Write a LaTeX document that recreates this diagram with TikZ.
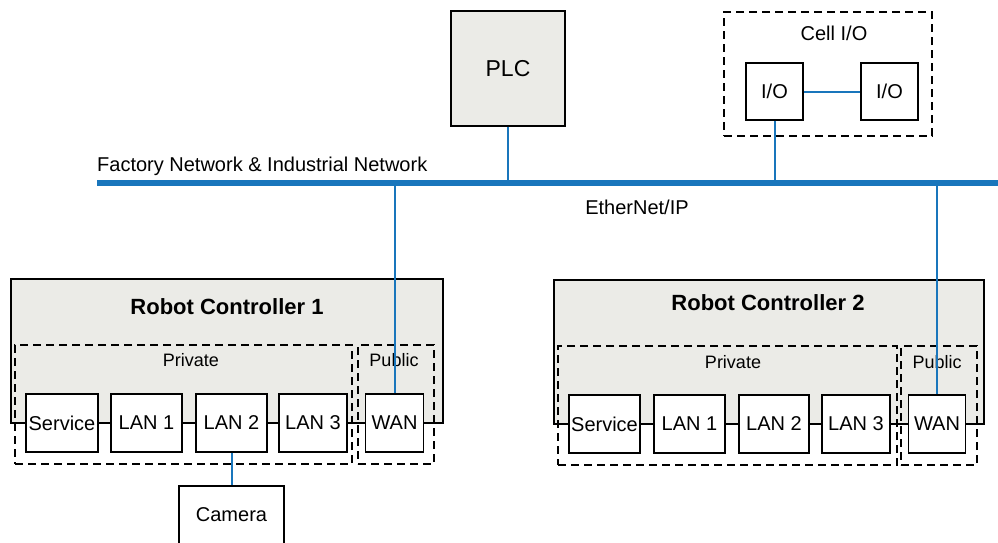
\documentclass[tikz,border=0pt]{standalone}
\usepackage{fontspec}
\setmainfont{Liberation Sans}
\usepackage{tikz}
\usetikzlibrary{positioning}
\definecolor{ctrlgrey}{RGB}{235,235,231}
\definecolor{netblue}{RGB}{25,118,188}

\begin{document}
\begin{tikzpicture}[x=1pt,y=-1pt,
   font=\fontsize{20}{24}\selectfont,
   port/.style={draw,line width=1.3pt,fill=white,inner sep=0pt,minimum height=58pt},
   ctrl/.style={draw,line width=1.3pt,fill=ctrlgrey,inner sep=0pt},
   zone/.style={draw,dash pattern=on 8pt off 5pt,line width=1.6pt,inner sep=0pt},
   txt/.style={inner sep=0pt},
   zonetxt/.style={inner sep=0pt,font=\fontsize{18}{22}\selectfont},
   ctrltxt/.style={inner sep=0pt,font=\bfseries\fontsize{22}{26}\selectfont},
   link/.style={draw=netblue,line width=2pt},
   bus/.style={draw=netblue,line width=6.5pt}]
  \useasboundingbox (0,0) rectangle (998,542);

  % network backbone
  \coordinate (buswest) at (97,183);
  \coordinate (buseast) at (998,183);
  \node[txt,anchor=base west] (netname) at (97,171) {Factory Network \& Industrial Network};
  \node[txt] (ethname) at (637,207) {EtherNet/IP};

  % PLC and cell I/O
  \node[ctrl,minimum width=114pt,minimum height=115pt,font=\fontsize{23}{27}\selectfont] (plc) at (508,68.5) {PLC};
  \node[zone,minimum width=208pt,minimum height=124pt] (cellio) at (828,74) {};
  \node[txt] (celliotxt) at (834,33) {Cell I/O};
  \node[port,minimum width=57pt,minimum height=57pt] (ioa) at (774.5,91.5) {I/O};
  \node[port,minimum width=57pt,minimum height=57pt] (iob) at (889.5,91.5) {I/O};

  % robot controller 1
  \node[ctrl,minimum width=432pt,minimum height=144pt] (rc1) at (227,351) {};
  \node[ctrltxt] (rc1name) at (227,307) {Robot Controller 1};
  \node[zone,minimum width=337pt,minimum height=119pt] (priv1) at (183.5,404.5) {};
  \node[zone,minimum width=76pt,minimum height=119pt] (pub1) at (396,404.5) {};
  \node[zonetxt] (priv1txt) at (191,360) {Private};
  \node[zonetxt] (pub1txt) at (394,360) {Public};
  \node[port,minimum width=72pt] (svc1) at (62,423) {Service};
  \node[port,minimum width=71pt] (lana1) at (146.5,423) {LAN 1};
  \node[port,minimum width=71pt] (lanb1) at (231.5,423) {LAN 2};
  \node[port,minimum width=68pt] (lanc1) at (313,423) {LAN 3};
  \node[port,minimum width=58pt] (wan1) at (394.5,423) {WAN};
  \node[port,minimum width=105pt] (camera) at (231.5,515) {Camera};

  % robot controller 2
  \node[ctrl,minimum width=430pt,minimum height=144pt] (rc2) at (769,352) {};
  \node[ctrltxt] (rc2name) at (768,303) {Robot Controller 2};
  \node[zone,minimum width=339pt,minimum height=119pt] (priv2) at (727.5,405.5) {};
  \node[zone,minimum width=76pt,minimum height=119pt] (pub2) at (939,405.5) {};
  \node[zonetxt] (priv2txt) at (733,362) {Private};
  \node[zonetxt] (pub2txt) at (937,362) {Public};
  \node[port,minimum width=71pt] (svc2) at (604.5,424) {Service};
  \node[port,minimum width=71pt] (lana2) at (689.5,424) {LAN 1};
  \node[port,minimum width=70pt] (lanb2) at (774,424) {LAN 2};
  \node[port,minimum width=68pt] (lanc2) at (856,424) {LAN 3};
  \node[port,minimum width=57pt] (wan2) at (937,424) {WAN};

  % connections
  \draw[link] (ioa) -- (iob);
  \draw[link] (ioa.south) -- (ioa.south |- buswest);
  \draw[link] (plc.south) -- (plc.south |- buswest);
  \draw[link] (wan1.north) -- (wan1.north |- buswest);
  \draw[link] (wan2.north) -- (wan2.north |- buswest);
  \draw[link] (lanb1.south) -- (camera.north);
  \draw[bus] (buswest) -- (buseast);
\end{tikzpicture}
\end{document}
